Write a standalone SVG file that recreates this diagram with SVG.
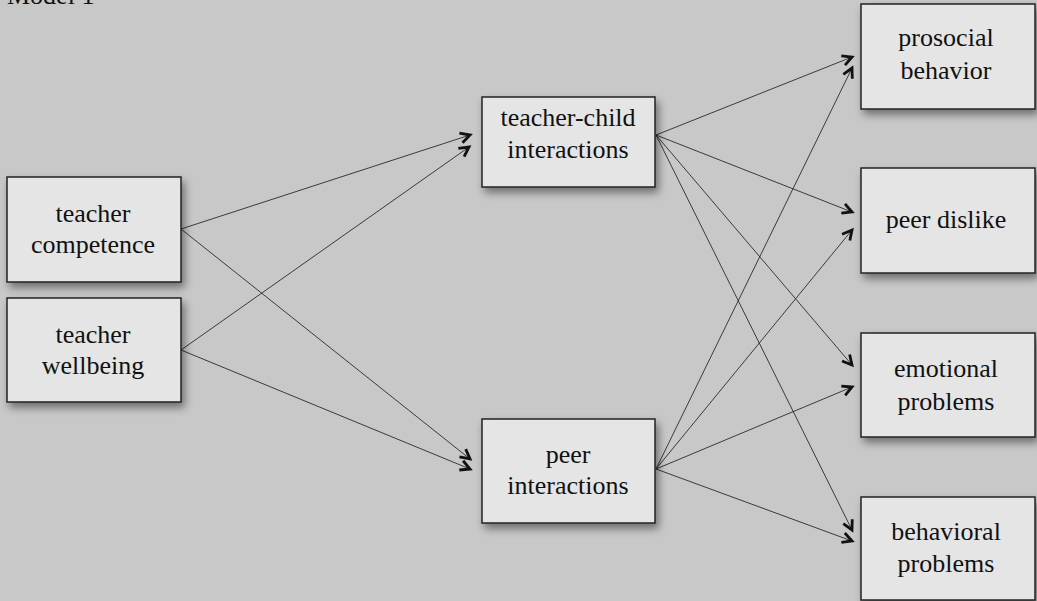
<svg xmlns="http://www.w3.org/2000/svg" width="1037" height="601" viewBox="0 0 1037 601">
<defs>
<filter id="sh" x="-20%" y="-20%" width="150%" height="150%">
<feDropShadow dx="3" dy="5" stdDeviation="4" flood-color="#000" flood-opacity="0.45"/>
</filter>
<marker id="ah" markerUnits="userSpaceOnUse" markerWidth="16" markerHeight="16" viewBox="-3 -3 16 16" refX="10" refY="5" orient="auto">
<path d="M0.5,0 L10,5 L0.5,10" fill="none" stroke="#111" stroke-width="2.8" stroke-linejoin="miter"/>
</marker>
<style>
.box{fill:#e5e5e5;stroke:#222;stroke-width:1.5;filter:url(#sh)}
.t{font-family:"Liberation Serif",serif;font-size:26px;fill:#111;text-anchor:middle}
.c{stroke:#2a2a2a;stroke-width:0.9;fill:none;marker-end:url(#ah)}
</style>
</defs>
<rect width="1037" height="601" fill="#c8c8c8"/>
<text x="7" y="4" font-family="Liberation Serif, serif" font-size="26" fill="#111">Model 1</text>
<g id="connectors">
<line class="c" x1="181" y1="229" x2="470" y2="135"/>
<line class="c" x1="181" y1="229" x2="470" y2="459"/>
<line class="c" x1="181" y1="350" x2="469" y2="147"/>
<line class="c" x1="181" y1="350" x2="470" y2="469"/>
<line class="c" x1="656" y1="135" x2="852" y2="57"/>
<line class="c" x1="656" y1="135" x2="852" y2="212"/>
<line class="c" x1="656" y1="135" x2="852" y2="365"/>
<line class="c" x1="656" y1="135" x2="852" y2="530"/>
<line class="c" x1="656" y1="469" x2="852" y2="68"/>
<line class="c" x1="656" y1="469" x2="852" y2="230"/>
<line class="c" x1="656" y1="469" x2="852" y2="387"/>
<line class="c" x1="656" y1="469" x2="852" y2="541"/>
</g>
<g id="teacher-competence">
<rect class="box" x="7" y="177" width="174" height="105"/>
<text class="t" x="93" y="222">teacher</text>
<text class="t" x="93" y="253">competence</text>
</g>
<g id="teacher-wellbeing">
<rect class="box" x="7" y="298" width="174" height="104"/>
<text class="t" x="93" y="343">teacher</text>
<text class="t" x="93" y="374">wellbeing</text>
</g>
<g id="teacher-child-interactions">
<rect class="box" x="482" y="97" width="173" height="90"/>
<text class="t" x="568" y="126">teacher-child</text>
<text class="t" x="568" y="158">interactions</text>
</g>
<g id="peer-interactions">
<rect class="box" x="482" y="419" width="173" height="104"/>
<text class="t" x="568" y="463">peer</text>
<text class="t" x="568" y="494">interactions</text>
</g>
<g id="prosocial-behavior">
<rect class="box" x="861" y="4" width="174" height="105"/>
<text class="t" x="946" y="46">prosocial</text>
<text class="t" x="946" y="79">behavior</text>
</g>
<g id="peer-dislike">
<rect class="box" x="861" y="168" width="174" height="105"/>
<text class="t" x="946" y="228">peer dislike</text>
</g>
<g id="emotional-problems">
<rect class="box" x="861" y="333" width="174" height="104"/>
<text class="t" x="946" y="377">emotional</text>
<text class="t" x="946" y="410">problems</text>
</g>
<g id="behavioral-problems">
<rect class="box" x="861" y="497" width="174" height="103"/>
<text class="t" x="946" y="540">behavioral</text>
<text class="t" x="946" y="572">problems</text>
</g>
</svg>
